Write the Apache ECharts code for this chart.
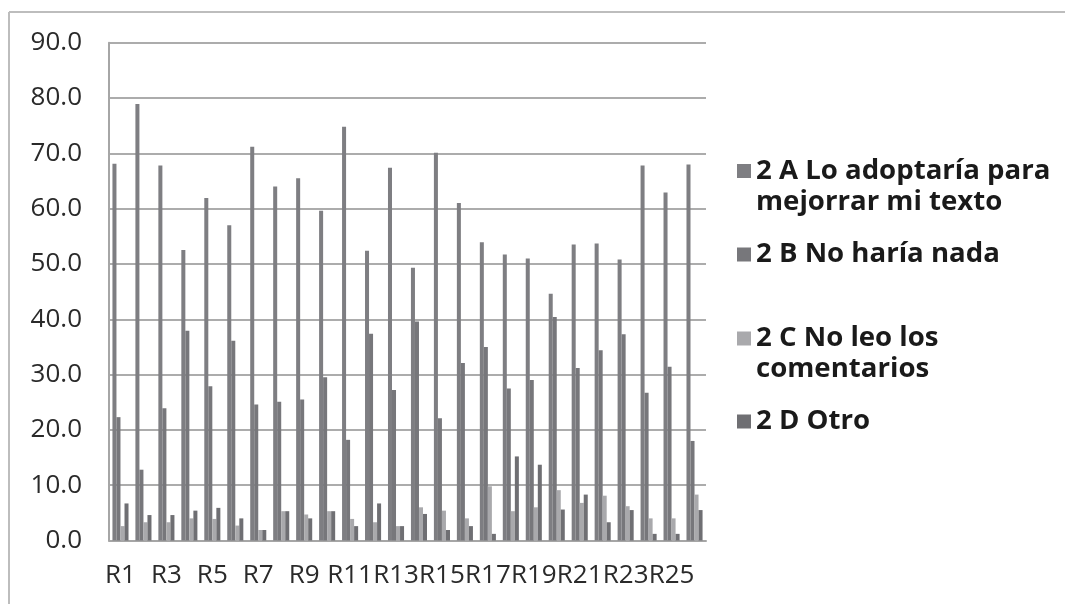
<!DOCTYPE html>
<html>
<head>
<meta charset="utf-8">
<script src="https://cdn.jsdelivr.net/npm/echarts@6/dist/echarts.min.js"></script>
<style>
html,body{margin:0;padding:0;background:#fff;}
#chart{width:1065px;height:604px;}
</style>
</head>
<body>
<div id="chart"></div>
<script>
var categories = ['R1','R2','R3','R4','R5','R6','R7','R8','R9','R10','R11','R12','R13','R14','R15','R16','R17','R18','R19','R20','R21','R22','R23','R24','R25','R26'];
var seriesNames = ['2 A Lo adoptaría para\nmejorrar mi texto','2 B No haría nada','2 C No leo los\ncomentarios','2 D Otro'];
var valuesA = [68.1,78.9,67.8,52.5,61.9,57.0,71.2,64.0,65.5,59.6,74.8,52.4,67.4,49.3,70.1,61.0,53.9,51.7,51.0,44.6,53.5,53.7,50.8,67.8,62.9,68.0];
var valuesB = [22.3,12.8,23.9,37.9,27.9,36.1,24.6,25.1,25.5,29.5,18.2,37.4,27.2,39.6,22.1,32.1,35.0,27.5,29.0,40.4,31.2,34.4,37.3,26.7,31.4,18.0];
var valuesC = [2.6,3.3,3.3,4.0,3.9,2.7,1.9,5.3,4.7,5.3,3.9,3.3,2.6,6.0,5.4,4.0,9.8,5.3,6.0,9.1,6.8,8.1,6.2,4.0,4.0,8.3];
var valuesD = [6.7,4.6,4.6,5.4,5.9,4.0,1.9,5.3,4.0,5.3,2.6,6.7,2.6,4.8,1.9,2.6,1.2,15.2,13.7,5.6,8.3,3.3,5.5,1.2,1.2,5.5];
var yTicks = [0,10,20,30,40,50,60,70,80,90];

var colors = ['#7e7e82','#77777b','#a9a9ac','#6f6f73'];
var allValues = [valuesA, valuesB, valuesC, valuesD];

var chart = echarts.init(document.getElementById('chart'), null, {renderer:'canvas'});

var LH = 31;
var iconCenters = [171, 254.5, 338.5, 421.5];
var twoLine = [true,false,true,false];
var legends = seriesNames.map(function(n,i){
  var top = twoLine[i] ? iconCenters[i] - 1.5*LH - 5 : iconCenters[i] - LH/2 - 5;
  return {
    data:[{name:n, icon:'rect'}],
    left: 732,
    top: top,
    orient:'vertical',
    itemWidth:14,
    itemHeight:14,
    selectedMode:false,
    formatter: function(name){ return twoLine[i] ? ' \n' + name : name; },
    textStyle:{
      fontFamily:'Open Sans',
      fontWeight:'bold',
      fontSize:27.6,
      color:'#1a1a1a',
      lineHeight:LH
    }
  };
});

var option = {
  animation:false,
  backgroundColor:'#ffffff',
  color: colors,
  textStyle:{fontFamily:'Open Sans'},
  graphic:[
    {type:'line', shape:{x1:9,y1:12,x2:1065,y2:12}, style:{stroke:'#bdbdbd', lineWidth:2}},
    {type:'line', shape:{x1:9,y1:12,x2:9,y2:604}, style:{stroke:'#bdbdbd', lineWidth:2}}
  ],
  legend: legends,
  grid:{left:109, right:359, top:42.7, bottom:63.5, containLabel:false},
  xAxis:{
    type:'category',
    data:categories,
    boundaryGap:true,
    axisLine:{show:true, lineStyle:{color:'#a6a6a6', width:2}},
    axisTick:{show:false},
    axisLabel:{interval:1, color:'#2a2a2a', fontSize:26, fontFamily:'Open Sans', margin:22}
  },
  yAxis:{
    type:'value',
    min:yTicks[0], max:yTicks[yTicks.length-1], interval:10,
    axisLine:{show:true, lineStyle:{color:'#a6a6a6', width:2}},
    axisTick:{show:false},
    splitLine:{show:true, lineStyle:{color:'#acacac', width:2}},
    axisLabel:{color:'#2a2a2a', fontSize:26, fontFamily:'Open Sans', margin:27,
      formatter:function(v){return v.toFixed(1);}}
  },
  series: seriesNames.map(function(n,i){
    return {
      name:n, type:'bar', data:allValues[i],
      barGap:'0%', barCategoryGap:'30%',
      itemStyle:{color:colors[i]}
    };
  })
};
chart.setOption(option);
</script>
</body>
</html>
